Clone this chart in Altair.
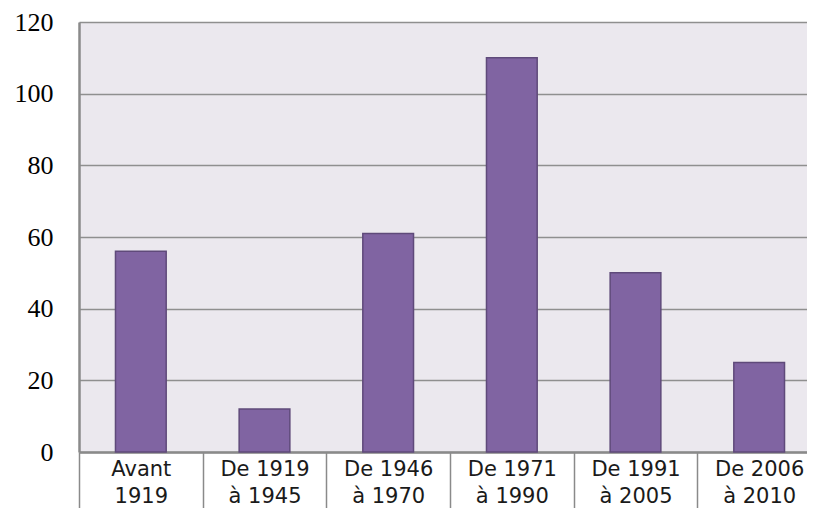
import altair as alt
import pandas as pd

categories = ["Avant\n1919", "De 1919\nà 1945", "De 1946\nà 1970", "De 1971\nà 1990", "De 1991\nà 2005", "De 2006\nà 2010"]
values = [56, 12, 61, 110, 50, 25]
y_ticks = [0, 20, 40, 60, 80, 100, 120]

df = pd.DataFrame({"cat": categories, "val": values})

chart = alt.Chart(df).mark_bar(
    color="#8064A2", stroke="#5F4A7A", strokeWidth=1.5,
    width=alt.RelativeBandSize(0.41)
).encode(
    x=alt.X("cat:N", sort=categories, title=None,
            scale=alt.Scale(range=[0, 742], paddingInner=0, paddingOuter=0),
            axis=alt.Axis(labelAngle=0, labelExpr="split(datum.label, '\\n')",
                          labelFont="DejaVu Sans", labelFontSize=21, labelColor="#1a1a1a",
                          labelLineHeight=27, labelPadding=-50,
                          tickBand="extent", tickSize=56, tickColor="#8a8a8a", tickWidth=1.5,
                          domainColor="#8a8a8a", domainWidth=2.5, labelBound=False,
                          labelOverlap=False)),
    y=alt.Y("val:Q", title=None,
            scale=alt.Scale(domain=[0, 120], nice=False),
            axis=alt.Axis(values=y_ticks, ticks=False, labelPadding=26,
                          labelFont="Liberation Serif", labelFontSize=26, labelColor="#000000",
                          domainColor="#8a8a8a", domainWidth=2.5,
                          gridColor="#8f8f8f", gridWidth=1.5))
).properties(
    width=728, height=430,
    autosize=alt.AutoSizeParams(type="none"),
    padding={"left": 71, "top": 14, "right": 0, "bottom": 56}
).configure_view(
    fill="#EBE8EE", stroke=None
)

chart.save("out.html", embed_options={"renderer": "svg", "actions": False})
